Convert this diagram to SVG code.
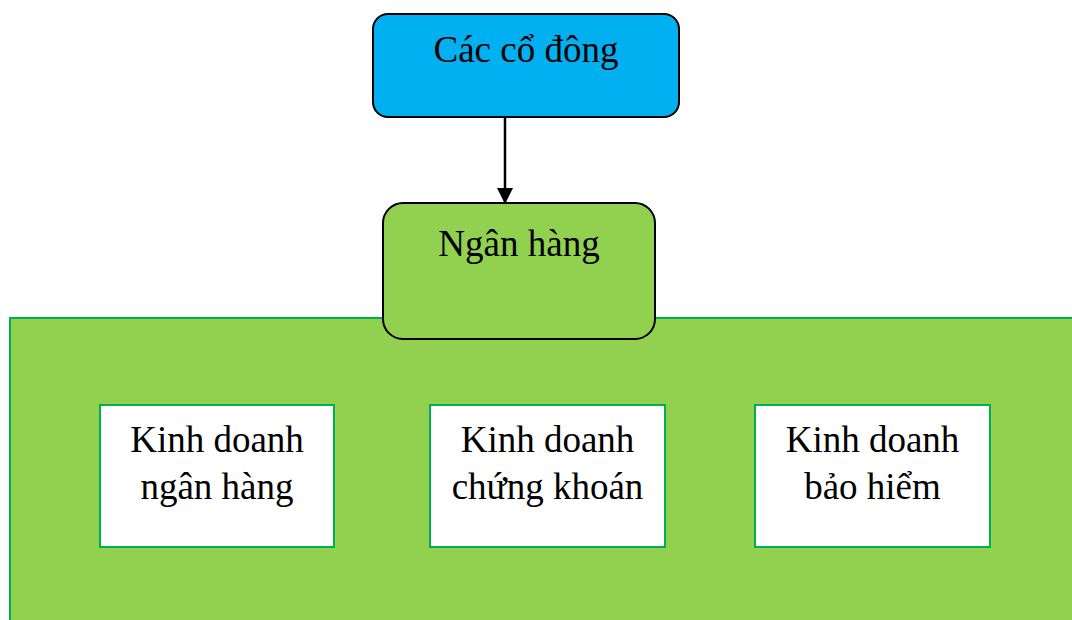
<svg xmlns="http://www.w3.org/2000/svg" width="1072" height="620" viewBox="0 0 1072 620">
  <style>
    .t { font-family: "Liberation Serif", "Times New Roman", serif; font-size: 37px; fill: #000; text-anchor: middle; }
    .sub { fill: #FFFFFF; stroke: #00B050; stroke-width: 2; }
  </style>
  <defs>
    <marker id="arr" markerWidth="16" markerHeight="16" refX="15" refY="8" orient="auto" markerUnits="userSpaceOnUse">
      <path d="M0,0 L16,8 L0,16 Z" fill="#000"/>
    </marker>
  </defs>
  <rect width="1072" height="620" fill="#FFFFFF"/>
  <g id="container">
    <rect x="10" y="318" width="1070" height="310" fill="#92D050" stroke="#00B050" stroke-width="2"/>
  </g>
  <g id="connectors">
    <line x1="505" y1="117" x2="505" y2="203" stroke="#000" stroke-width="2.5" marker-end="url(#arr)"/>
  </g>
  <g id="shareholders">
    <rect x="373" y="14" width="306" height="103" rx="15" ry="15" fill="#00B0F0" stroke="#000" stroke-width="2"/>
    <text class="t" x="526" y="62">Các cổ đông</text>
  </g>
  <g id="bank">
    <rect x="383" y="203" width="272" height="136" rx="20" ry="20" fill="#92D050" stroke="#000" stroke-width="2"/>
    <text class="t" x="519" y="256">Ngân hàng</text>
  </g>
  <g id="banking">
    <rect class="sub" x="100" y="405" width="234" height="142"/>
    <text class="t" x="217" y="452">Kinh doanh</text>
    <text class="t" x="217" y="499">ngân hàng</text>
  </g>
  <g id="securities">
    <rect class="sub" x="430" y="405" width="235" height="142"/>
    <text class="t" x="547.5" y="452">Kinh doanh</text>
    <text class="t" x="547.5" y="499">chứng khoán</text>
  </g>
  <g id="insurance">
    <rect class="sub" x="755" y="405" width="235" height="142"/>
    <text class="t" x="872.5" y="452">Kinh doanh</text>
    <text class="t" x="872.5" y="499">bảo hiểm</text>
  </g>
</svg>
